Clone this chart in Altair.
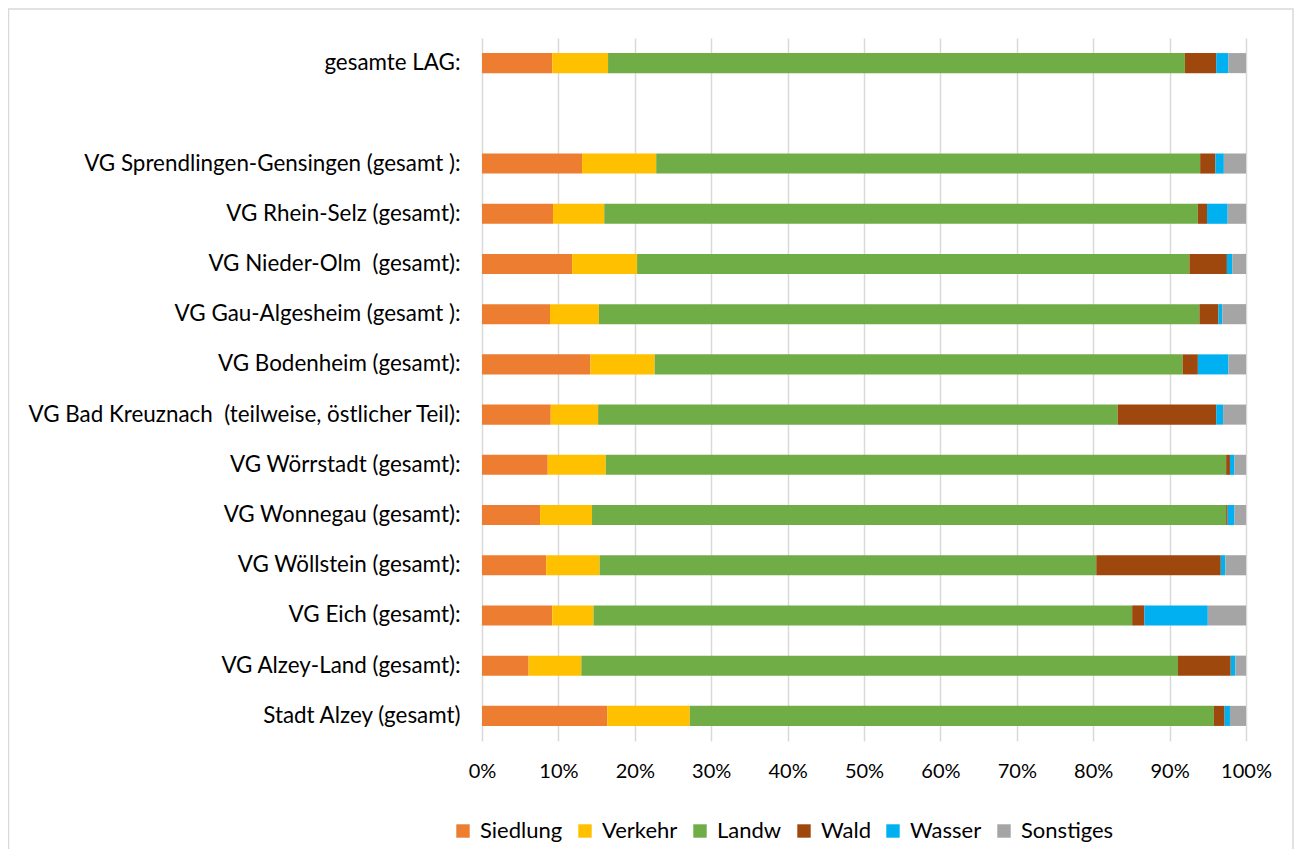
import altair as alt
import pandas as pd

categories = [
    "gesamte LAG:",
    " ",
    "VG Sprendlingen-Gensingen (gesamt ): ",
    "VG Rhein-Selz (gesamt):",
    "VG Nieder-Olm  (gesamt):",
    "VG Gau-Algesheim (gesamt ):",
    "VG Bodenheim (gesamt):",
    "VG Bad Kreuznach  (teilweise, östlicher Teil):",
    "VG Wörrstadt (gesamt):",
    "VG Wonnegau (gesamt):",
    "VG Wöllstein (gesamt):",
    "VG Eich (gesamt):",
    "VG Alzey-Land (gesamt):",
    "Stadt Alzey (gesamt)",
]

series = ["Siedlung", "Verkehr", "Landw", "Wald", "Wasser", "Sonstiges"]
colors = ["#ED7D31", "#FFC000", "#70AD47", "#9E480E", "#00B0F0", "#A5A5A5"]

# values in percent, one entry per category (None for the empty spacer row)
siedlung  = [9.2, None, 13.1, 9.3, 11.8, 8.9, 14.2, 9.0, 8.6, 7.6, 8.4, 9.2, 6.1, 16.4]
verkehr   = [7.3, None, 9.7, 6.7, 8.5, 6.4, 8.4, 6.2, 7.6, 6.8, 7.0, 5.4, 6.9, 10.8]
landw     = [75.5, None, 71.2, 77.7, 72.3, 78.6, 69.1, 68.0, 81.2, 83.0, 65.0, 70.5, 78.1, 68.6]
wald      = [4.1, None, 2.0, 1.2, 4.9, 2.5, 2.0, 12.9, 0.5, 0.2, 16.3, 1.6, 6.9, 1.4]
wasser    = [1.6, None, 1.1, 2.7, 0.7, 0.5, 4.0, 0.9, 0.6, 0.9, 0.6, 8.3, 0.6, 0.7]
sonstiges = [2.3, None, 2.9, 2.4, 1.8, 3.1, 2.3, 3.0, 1.5, 1.5, 2.7, 5.0, 1.4, 2.1]

cols = [siedlung, verkehr, landw, wald, wasser, sonstiges]
rows = []
for si, (name, vals) in enumerate(zip(series, cols)):
    for cat, v in zip(categories, vals):
        if v is None:
            continue
        rows.append({"Gebiet": cat, "Nutzung": name, "Wert": v, "ord": si})
df = pd.DataFrame(rows)

FONT = "Lato"
FS = 22.4
NBSP = "\u00a0"
label_expr = ("replace(replace(datum.label, regexp('  ', 'g'), ' " + NBSP + "'), "
              "regexp(' $'), '" + NBSP + "')")

bars = alt.Chart(df).mark_bar().encode(
    y=alt.Y("Gebiet:N", sort=categories,
            scale=alt.Scale(domain=categories, paddingInner=0.6, paddingOuter=0.3),
            axis=alt.Axis(title=None, ticks=False, domain=False, labelPadding=22,
                          labelFontSize=FS, labelColor="#000000", labelFont=FONT,
                          labelLimit=700, grid=False, labelExpr=label_expr)),
    x=alt.X("Wert:Q", stack="normalize",
            scale=alt.Scale(domain=[0, 1]),
            axis=alt.Axis(title=None, format="%", values=[i / 10 for i in range(11)],
                          ticks=False, domain=False, labelPadding=20, labelFlush=False,
                          labelFontSize=20, labelColor="#000000", labelFont=FONT,
                          grid=True, gridColor="#d9d9d9", gridWidth=1.5)),
    color=alt.Color("Nutzung:N",
                    scale=alt.Scale(domain=series, range=colors),
                    legend=alt.Legend(title=None, orient="none", direction="horizontal",
                                      legendX=-30, legendY=782,
                                      symbolType="square", symbolSize=180,
                                      symbolStrokeWidth=0, labelFontSize=22,
                                      labelFont=FONT, labelColor="#000000",
                                      labelOffset=6, columnPadding=11)),
    order=alt.Order("ord:Q"),
)

frame_df = pd.DataFrame({"f": [0]})
frame = alt.Chart(frame_df).mark_rect(filled=False, stroke="#d9d9d9", strokeWidth=1.5).encode(
    x=alt.value(-473.5), x2=alt.value(811), y=alt.value(-29), y2=alt.value(950)
)

chart = alt.layer(frame, bars).properties(
    width=764, height=703,
    autosize=alt.AutoSizeParams(type="none"),
    padding={"left": 474, "top": 30, "right": 48, "bottom": 108},
).configure_view(stroke=None)

chart.save("out.html", embed_options={"renderer": "svg", "actions": False})
